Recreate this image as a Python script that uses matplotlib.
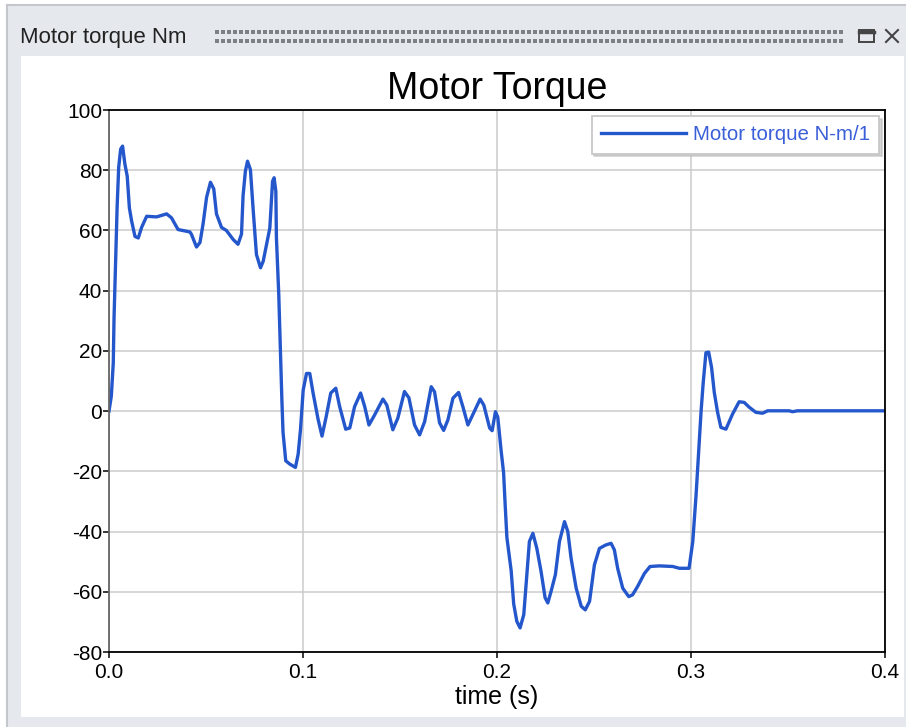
import numpy as np
import matplotlib
matplotlib.use("Agg")
import matplotlib.pyplot as plt
from matplotlib.patches import Rectangle

# ------------------------
# data
# ------------------------
time_s = [
    0.0000, 0.0012, 0.0022, 0.0026, 0.0034, 0.0042, 0.0050, 0.0060, 0.0070, 0.0082,
    0.0094, 0.0105, 0.0117, 0.0134, 0.0151, 0.0168, 0.0194, 0.0245, 0.0297, 0.0322,
    0.0356, 0.0417, 0.0425, 0.0451, 0.0469, 0.0485, 0.0503, 0.0523, 0.0540, 0.0554,
    0.0580, 0.0605, 0.0640, 0.0665, 0.0683, 0.0691, 0.0703, 0.0714, 0.0729, 0.0743,
    0.0760, 0.0781, 0.0795, 0.0812, 0.0829, 0.0843, 0.0851, 0.0860, 0.0863, 0.0875,
    0.0884, 0.0891, 0.0897, 0.0911, 0.0932, 0.0961, 0.0975, 0.0987, 0.1001, 0.1018,
    0.1035, 0.1052, 0.1078, 0.1098, 0.1120, 0.1143, 0.1169, 0.1189, 0.1220, 0.1241,
    0.1266, 0.1297, 0.1318, 0.1340, 0.1369, 0.1412, 0.1432, 0.1463, 0.1489, 0.1523,
    0.1546, 0.1575, 0.1601, 0.1627, 0.1661, 0.1678, 0.1704, 0.1725, 0.1747, 0.1773,
    0.1802, 0.1824, 0.1850, 0.1873, 0.1913, 0.1932, 0.1962, 0.1975, 0.1992, 0.2004,
    0.2021, 0.2034, 0.2042, 0.2051, 0.2073, 0.2086, 0.2102, 0.2119, 0.2138, 0.2150,
    0.2167, 0.2185, 0.2205, 0.2227, 0.2248, 0.2262, 0.2279, 0.2301, 0.2322, 0.2348,
    0.2365, 0.2382, 0.2408, 0.2434, 0.2455, 0.2477, 0.2502, 0.2528, 0.2559, 0.2588,
    0.2605, 0.2622, 0.2648, 0.2679, 0.2699, 0.2725, 0.2760, 0.2789, 0.2837, 0.2906,
    0.2940, 0.2990, 0.3009, 0.3026, 0.3043, 0.3052, 0.3063, 0.3077, 0.3091, 0.3106,
    0.3120, 0.3137, 0.3154, 0.3180, 0.3214, 0.3248, 0.3274, 0.3300, 0.3334, 0.3369,
    0.3395, 0.3506, 0.3523, 0.3549, 0.4000,
]
torque_nm = [
    0.0, 5.0, 16.0, 31.0, 50.0, 68.0, 81.0, 87.0, 88.0, 82.0,
    78.0, 67.5, 63.0, 58.0, 57.5, 61.0, 64.7, 64.5, 65.5, 64.2,
    60.3, 59.5, 58.7, 54.5, 56.0, 62.2, 71.0, 76.0, 73.8, 65.5,
    61.0, 60.0, 57.0, 55.4, 58.8, 71.5, 79.7, 83.0, 80.2, 67.0,
    52.0, 47.6, 49.8, 55.3, 60.8, 76.3, 77.5, 73.0, 57.6, 38.8,
    19.0, 4.0, -7.0, -16.5, -17.6, -18.7, -14.3, -6.2, 7.0, 12.5,
    12.5, 6.0, -2.8, -8.3, -1.7, 6.0, 7.6, 1.5, -6.0, -5.6,
    1.5, 6.0, 1.5, -4.6, -1.3, 4.0, 2.0, -6.2, -2.3, 6.5,
    4.4, -4.6, -7.9, -3.5, 8.1, 6.4, -3.9, -6.4, -2.9, 4.3,
    6.2, 1.5, -4.6, -1.5, 4.0, 2.0, -5.6, -6.5, -0.2, -2.0,
    -13.0, -20.5, -31.0, -42.0, -53.0, -64.0, -69.8, -72.0, -67.6, -57.6,
    -43.3, -40.6, -45.5, -53.2, -62.0, -63.7, -59.8, -54.3, -43.3, -36.7,
    -40.0, -48.9, -58.8, -64.8, -66.0, -63.2, -51.1, -45.6, -44.5, -43.9,
    -46.1, -52.2, -58.8, -61.6, -61.0, -58.2, -53.9, -51.6, -51.4, -51.6,
    -52.2, -52.2, -43.4, -28.0, -9.3, 0.0, 9.5, 19.4, 19.6, 14.5,
    6.2, -0.4, -5.4, -6.0, -1.0, 3.1, 2.9, 1.3, -0.4, -0.7,
    0.1, 0.1, -0.2, 0.1, 0.1,
]
x_ticks = [0.0, 0.1, 0.2, 0.3, 0.4]
y_ticks = [-80, -60, -40, -20, 0, 20, 40, 60, 80, 100]

W, H = 906, 727
plt.rcParams['font.family'] = ['Liberation Sans', 'DejaVu Sans']
plt.rcParams['axes.unicode_minus'] = False

fig = plt.figure(figsize=(W / 100, H / 100), dpi=100)

# ------------------------
# window chrome (pixel coords)
# ------------------------
bg = fig.add_axes([0, 0, 1, 1], zorder=0)
bg.set_xlim(0, W)
bg.set_ylim(H, 0)
bg.axis('off')
bg.add_patch(Rectangle((7, 5), W - 7, H - 5, facecolor='#e5e9ee', edgecolor='none'))
bg.plot([7, 7], [5, H], color='#c4c7cb', lw=1.5)
bg.plot([7, W], [5, 5], color='#c4c7cb', lw=1.5)
bg.add_patch(Rectangle((21, 56), 883, 661, facecolor='white', edgecolor='none'))
bg.text(20, 37, "Motor torque Nm", fontsize=16, va='center', ha='left', color='#222222')
dots_x = np.arange(217, 846, 6)
for yy in (32, 41):
    bg.scatter(dots_x, np.full(len(dots_x), yy), s=6, marker='s', color='#7d8186', linewidths=0)
bg.add_patch(Rectangle((859, 30), 15, 12, facecolor='none', edgecolor='#444444', lw=1.4))
bg.plot([859, 874], [31.5, 31.5], color='#444444', lw=2.5)
bg.plot([886, 898], [30, 42], color='#444444', lw=1.5)
bg.plot([886, 898], [42, 30], color='#444444', lw=1.5)

# ------------------------
# the chart itself
# ------------------------
ax = fig.add_axes([109 / W, 1 - 652 / H, 776 / W, 542 / H], zorder=1)
ax.plot(time_s, torque_nm, color='#2456cc', lw=2.4, label='Motor torque N-m/1',
        solid_joinstyle='round')
ax.set_xlim(0, 0.4)
ax.set_ylim(-80, 100)
ax.set_xticks(x_ticks)
ax.set_xticklabels([f"{v:.1f}" for v in x_ticks])
ax.set_yticks(y_ticks)
ax.grid(True, color='#cbcbcb', lw=1.1)
ax.set_axisbelow(True)
ax.tick_params(direction='out', length=4, width=1.1, labelsize=15, colors='black')
ax.tick_params(axis='x', pad=4)
ax.tick_params(axis='y', pad=1)
for s in ax.spines.values():
    s.set_linewidth(1.3)
    s.set_color('black')
ax.spines['left'].set_color('#666666')

ax.set_title("Motor Torque", fontsize=27, pad=8)
ax.set_xlabel("time (s)", fontsize=18, labelpad=2)

leg = ax.legend(loc='upper right', fontsize=14.75, handlelength=4.15, handletextpad=0.33,
                borderaxespad=0.3, fancybox=False, shadow={'color': '#bbbbbb', 'alpha': 0.6},
                framealpha=1, borderpad=0.45)
leg.get_frame().set_edgecolor('#c8c8c8')
leg.get_frame().set_linewidth(1.3)
for t in leg.get_texts():
    t.set_color('#3a5fd8')

plt.savefig("out.png", dpi=100)
plt.close()
